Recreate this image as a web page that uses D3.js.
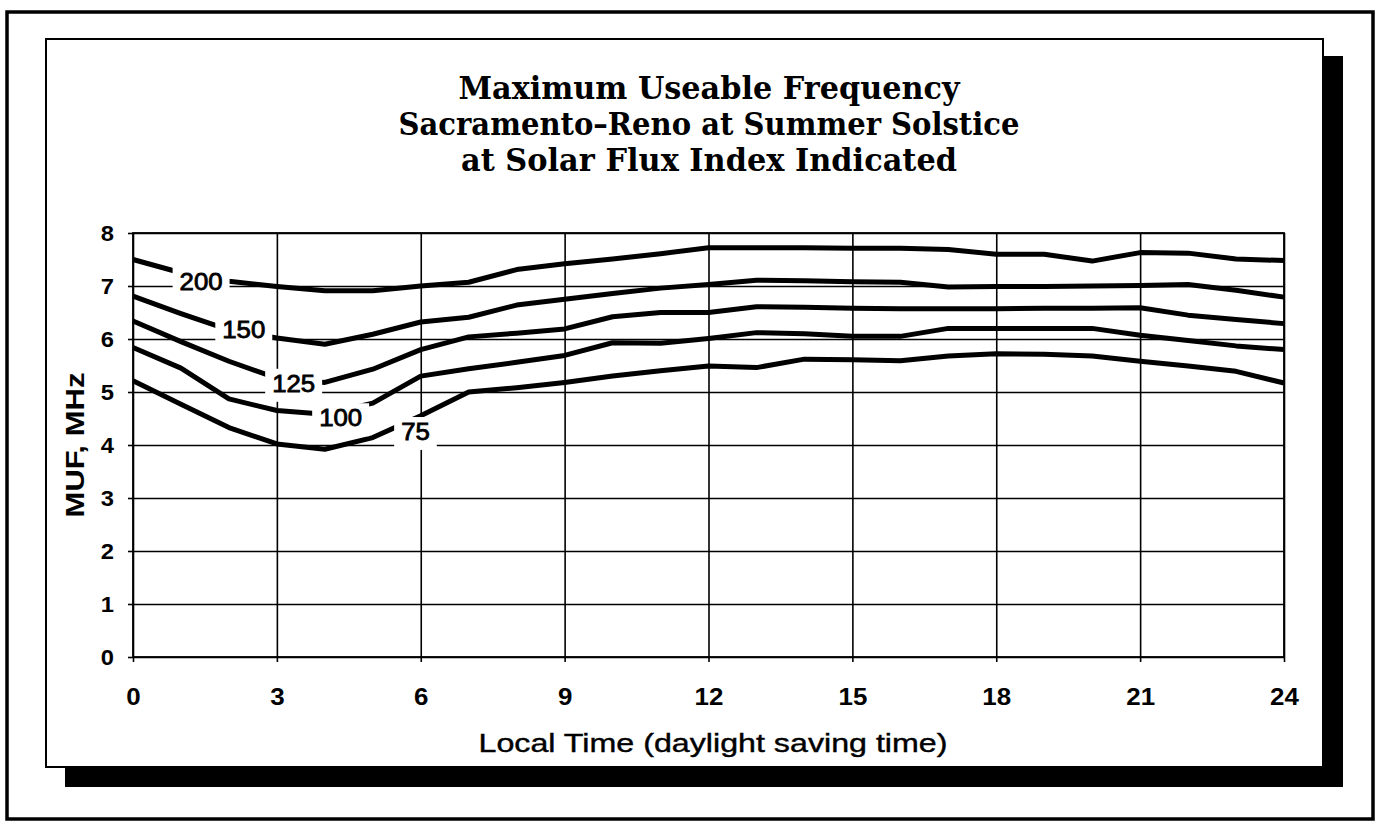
<!DOCTYPE html>
<html>
<head>
<meta charset="utf-8">
<script src="https://cdn.jsdelivr.net/npm/d3@7"></script>
<style>
  html, body { margin: 0; padding: 0; background: #fff; }
  svg { display: block; }
</style>
</head>
<body>
<svg id="chart" width="1377" height="825"></svg>
<script>
// Local time (hours, daylight saving time)
const hours = [0, 1, 2, 3, 4, 5, 6, 7, 8, 9, 10, 11, 12, 13, 14, 15, 16, 17, 18, 19, 20, 21, 22, 23, 24];

// MUF (MHz) for each solar flux index
const sfi200 = [7.50, 7.25, 7.09, 6.99, 6.91, 6.91, 7.00, 7.07, 7.31, 7.42, 7.51, 7.61, 7.72, 7.72, 7.72, 7.71, 7.71, 7.69, 7.60, 7.60, 7.47, 7.63, 7.62, 7.51, 7.48];
const sfi150 = [6.81, 6.48, 6.17, 6.02, 5.90, 6.09, 6.32, 6.41, 6.64, 6.75, 6.86, 6.96, 7.03, 7.11, 7.10, 7.08, 7.07, 6.98, 6.99, 6.99, 7.00, 7.01, 7.03, 6.92, 6.79];
const sfi125 = [6.34, 5.95, 5.58, 5.26, 5.18, 5.43, 5.80, 6.04, 6.11, 6.19, 6.42, 6.50, 6.50, 6.61, 6.60, 6.58, 6.57, 6.57, 6.57, 6.58, 6.58, 6.59, 6.45, 6.37, 6.29];
const sfi100 = [5.84, 5.45, 4.87, 4.65, 4.58, 4.79, 5.30, 5.44, 5.56, 5.69, 5.93, 5.92, 6.01, 6.12, 6.10, 6.05, 6.05, 6.20, 6.20, 6.20, 6.20, 6.07, 5.97, 5.87, 5.80];
const sfi75  = [5.21, 4.77, 4.33, 4.02, 3.92, 4.14, 4.55, 5.00, 5.08, 5.18, 5.30, 5.40, 5.49, 5.46, 5.62, 5.61, 5.59, 5.68, 5.72, 5.71, 5.68, 5.58, 5.49, 5.39, 5.17];

// Curve labels and where they sit (hour, MHz)
const fluxNames = ["200", "150", "125", "100", "75"];
const labelHour = [1.42, 2.31, 3.35, 4.33, 5.89];
const labelMHz  = [7.08, 6.17, 5.16, 4.51, 4.25];

// Axis ticks
const xTickValues = [0, 3, 6, 9, 12, 15, 18, 21, 24];
const yTickValues = [0, 1, 2, 3, 4, 5, 6, 7, 8];

const titleLines = [
  "Maximum Useable Frequency",
  "Sacramento\u2013Reno at Summer Solstice",
  "at Solar Flux Index Indicated"
];
const xTitle = "Local Time (daylight saving time)";
const yTitle = "MUF, MHz";

const series = [sfi200, sfi150, sfi125, sfi100, sfi75];

const SANS = "'Liberation Sans', Arial, Helvetica, sans-serif";
const SERIF = "'DejaVu Serif', 'Liberation Serif', serif";

const svg = d3.select("#chart");

const x = d3.scaleLinear().domain([0, 24]).range([133, 1284]);
const y = d3.scaleLinear().domain([0, 8]).range([657, 233]);
const plotW = x.range()[1] - x.range()[0];
const plotH = y.range()[0] - y.range()[1];

// widen text by a factor, keeping its glyph height
function widen(sel, k) {
  sel.each(function () {
    const w = this.getComputedTextLength();
    d3.select(this).attr("textLength", w * k).attr("lengthAdjust", "spacingAndGlyphs");
  });
}
function fitWidth(sel, w) {
  sel.attr("textLength", w).attr("lengthAdjust", "spacingAndGlyphs");
}

// ---- frames ----
svg.append("rect")
  .attr("x", 7).attr("y", 12).attr("width", 1366).attr("height", 807)
  .attr("fill", "#fff").attr("stroke", "#000").attr("stroke-width", 3.5);

// drop shadow of the chart panel
svg.append("rect")
  .attr("x", 65).attr("y", 56).attr("width", 1278).attr("height", 731)
  .attr("fill", "#000");

svg.append("rect")
  .attr("x", 46).attr("y", 39).attr("width", 1277).attr("height", 728)
  .attr("fill", "#fff").attr("stroke", "#000").attr("stroke-width", 2);

// ---- title ----
const titleBase = [99, 135, 171];
const titleW = [501, 621, 496];
svg.append("g").selectAll("text")
  .data(titleLines)
  .join("text")
  .attr("x", 709)
  .attr("y", (d, i) => titleBase[i])
  .attr("text-anchor", "middle")
  .attr("font-family", SERIF)
  .attr("font-weight", "bold")
  .attr("font-size", 31)
  .attr("fill", "#000")
  .text(d => d)
  .each(function (d, i) { fitWidth(d3.select(this), titleW[i]); });

// ---- grid ----
const grid = svg.append("g");
grid.append("g")
  .attr("transform", `translate(${x(0)},0)`)
  .call(d3.axisLeft(y).tickValues(yTickValues).tickSize(-plotW).tickFormat(""))
  .call(g => g.select(".domain").remove())
  .call(g => g.selectAll("line").attr("stroke", "#000").attr("stroke-width", 1.6));
grid.append("g")
  .attr("transform", `translate(0,${y(0)})`)
  .call(d3.axisBottom(x).tickValues(xTickValues).tickSize(-plotH).tickFormat(""))
  .call(g => g.select(".domain").remove())
  .call(g => g.selectAll("line").attr("stroke", "#000").attr("stroke-width", 1.6));

svg.append("rect")
  .attr("x", x(0)).attr("y", y(8)).attr("width", plotW).attr("height", plotH)
  .attr("fill", "none").attr("stroke", "#000").attr("stroke-width", 1.8);

// ---- axes (outer ticks + labels) ----
const yAxis = svg.append("g")
  .attr("transform", `translate(${x(0)},0)`)
  .call(d3.axisLeft(y).tickValues(yTickValues).tickSize(5).tickPadding(14).tickFormat(d3.format("d")));
yAxis.select(".domain").remove();
yAxis.selectAll("line").attr("stroke", "#000").attr("stroke-width", 1.6);
yAxis.selectAll("text")
  .attr("font-family", SANS).attr("font-weight", "bold").attr("font-size", 22)
  .attr("fill", "#000").attr("dy", "0.36em")
  .call(widen, 1.08);

const xAxis = svg.append("g")
  .attr("transform", `translate(0,${y(0)})`)
  .call(d3.axisBottom(x).tickValues(xTickValues).tickSize(5).tickFormat(d3.format("d")));
xAxis.select(".domain").remove();
xAxis.selectAll("line").attr("stroke", "#000").attr("stroke-width", 1.6);
xAxis.selectAll("text")
  .attr("font-family", SANS).attr("font-weight", "bold").attr("font-size", 24)
  .attr("fill", "#000").attr("y", 48).attr("dy", null)
  .call(widen, 1.08);

// axis titles
svg.append("text")
  .attr("x", 713).attr("y", 752)
  .attr("text-anchor", "middle")
  .attr("font-family", SANS).attr("font-size", 26).attr("fill", "#000")
  .attr("stroke", "#000").attr("stroke-width", 0.4)
  .text(xTitle)
  .call(fitWidth, 469);

svg.append("text")
  .attr("transform", "translate(84,445) rotate(-90)")
  .attr("text-anchor", "middle")
  .attr("font-family", SANS).attr("font-weight", "bold").attr("font-size", 26).attr("fill", "#000")
  .text(yTitle)
  .call(fitWidth, 145);

// ---- curves ----
const line = d3.line()
  .x((d, i) => x(hours[i]))
  .y(d => y(d));

svg.append("g").selectAll("path")
  .data(series)
  .join("path")
  .attr("d", line)
  .attr("fill", "none")
  .attr("stroke", "#000")
  .attr("stroke-width", 5)
  .attr("stroke-linejoin", "round")
  .attr("stroke-linecap", "butt");

// ---- curve labels on white boxes ----
const labels = svg.append("g");
fluxNames.forEach((name, i) => {
  const g = labels.append("g");
  const fs = 23;
  const t = g.append("text")
    .attr("x", x(labelHour[i]))
    .attr("y", y(labelMHz[i]) + fs * 0.36)
    .attr("text-anchor", "middle")
    .attr("font-family", SANS).attr("font-size", fs).attr("fill", "#000")
    .attr("stroke", "#000").attr("stroke-width", 0.8)
    .text(name);
  widen(t, 1.12);
  const bb = t.node().getBBox();
  g.insert("rect", "text")
    .attr("x", bb.x - 7).attr("y", bb.y - 2)
    .attr("width", bb.width + 14).attr("height", bb.height + 7)
    .attr("fill", "#fff");
});
</script>
</body>
</html>
